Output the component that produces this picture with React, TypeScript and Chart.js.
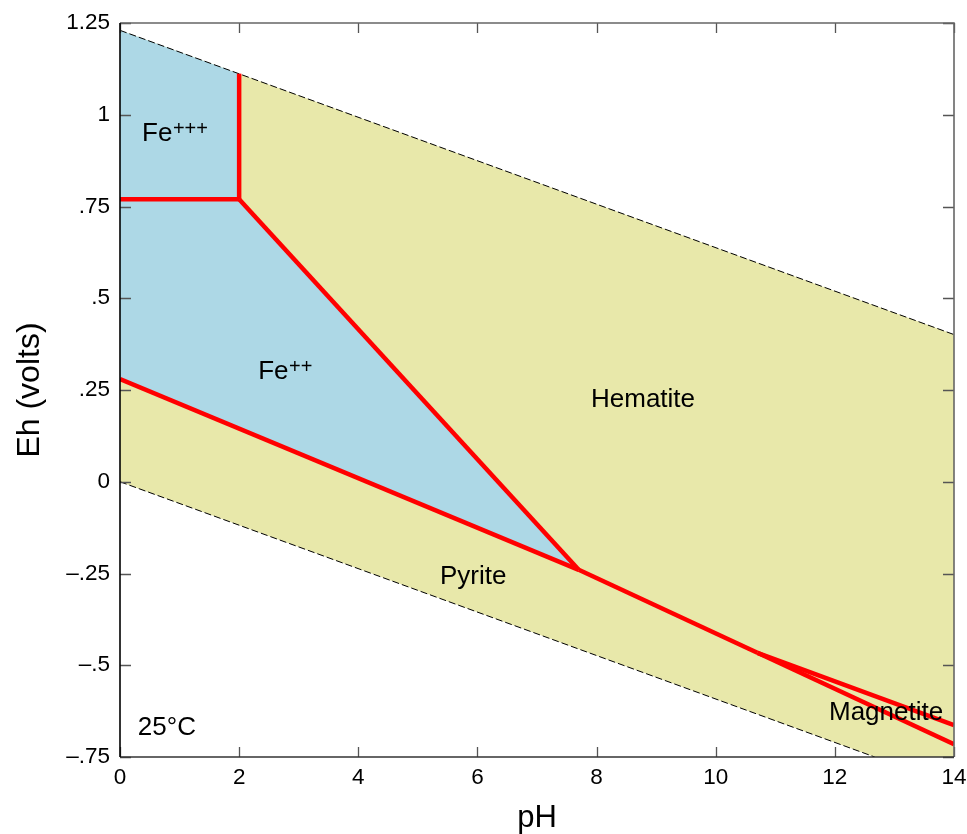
import React, { useEffect, useRef } from "react";
import { Chart, registerables } from "chart.js";

Chart.register(...registerables);

// ---- axis ticks ----
const phTicks = [0, 2, 4, 6, 8, 10, 12, 14];
const ehTicks = [-0.75, -0.5, -0.25, 0, 0.25, 0.5, 0.75, 1, 1.25];
const ehTickLabels = ["\u2013.75", "\u2013.5", "\u2013.25", "0", ".25", ".5", ".75", "1", "1.25"];

// ---- water stability limits (dashed) ----
const waterUpperPH = [0, 14];
const waterUpperEh = [1.23, 0.401];
const waterLowerPH = [0, 12.67];
const waterLowerEh = [0, -0.75];

// ---- filled fields ----
const solidFieldPH = [0, 14, 14, 12.67, 0];
const solidFieldEh = [1.23, 0.401, -0.75, -0.75, 0];
const fe3FieldPH = [0, 2, 2, 0];
const fe3FieldEh = [1.23, 1.112, 0.77, 0.77];
const fe2FieldPH = [0, 2, 7.7, 0];
const fe2FieldEh = [0.77, 0.77, -0.24, 0.28];

// ---- boundaries (red) ----
const fe3Fe2PH = [0, 2];
const fe3Fe2Eh = [0.77, 0.77];
const fe3HemPH = [2, 2];
const fe3HemEh = [0.77, 1.112];
const fe2HemPH = [2, 7.7];
const fe2HemEh = [0.77, -0.24];
const fe2PyrPH = [0, 7.7];
const fe2PyrEh = [0.28, -0.24];
const pyrHemPH = [7.7, 10.7];
const pyrHemEh = [-0.24, -0.466];
const hemMagPH = [10.7, 14];
const hemMagEh = [-0.466, -0.663];
const pyrMagPH = [10.7, 14];
const pyrMagEh = [-0.466, -0.715];

// ---- field labels ----
const fieldNames = ["Hematite", "Pyrite", "Magnetite"];
const fieldNamePH = [8.78, 5.93, 12.86];
const fieldNameEh = [0.223, -0.26, -0.631];
const ionBase = ["Fe", "Fe"];
const ionCharge = ["+++", "++"];
const ionPH = [0.37, 2.32];
const ionEh = [0.928, 0.28];
const tempLabel = "25\u00b0C";
const tempPH = 0.3;
const tempEh = -0.67;

const FONT = "'Liberation Sans', Arial, Helvetica, sans-serif";
const BLUE = "#ADD8E6";
const YELLOW = "#E8E8AA";
const RED = "#FF0000";

const pts = (xs: number[], ys: number[]) => xs.map((x, i) => ({ x, y: ys[i] }));

const poly = (xs: number[], ys: number[], color: string, order: number) => ({
  data: pts(xs, ys),
  showLine: true,
  fill: "shape",
  backgroundColor: color,
  borderColor: color,
  borderWidth: 0,
  pointRadius: 0,
  order,
});

const dashed = (xs: number[], ys: number[]) => ({
  data: pts(xs, ys),
  showLine: true,
  fill: false,
  borderColor: "#000",
  borderWidth: 1,
  borderDash: [7, 3],
  pointRadius: 0,
  order: 5,
});

const redLine = (xs: number[], ys: number[]) => ({
  data: pts(xs, ys),
  showLine: true,
  fill: false,
  borderColor: RED,
  borderWidth: 4.5,
  borderCapStyle: "butt",
  borderJoinStyle: "miter",
  pointRadius: 0,
  order: 1,
});

const decorPlugin = {
  id: "decor",
  afterDatasetsDraw(chart: any) {
    const { ctx, chartArea: a, scales } = chart;
    const x = scales.x;
    const y = scales.y;
    ctx.save();
    // inward tick marks
    ctx.strokeStyle = "#555";
    ctx.lineWidth = 1.3;
    ctx.beginPath();
    phTicks.forEach((v) => {
      const px = Math.round(x.getPixelForValue(v)) + 0.5;
      ctx.moveTo(px, a.bottom);
      ctx.lineTo(px, a.bottom - 10);
      ctx.moveTo(px, a.top);
      ctx.lineTo(px, a.top + 10);
    });
    ehTicks.forEach((v) => {
      const py = Math.round(y.getPixelForValue(v)) + 0.5;
      ctx.moveTo(a.left, py);
      ctx.lineTo(a.left + 11, py);
      ctx.moveTo(a.right, py);
      ctx.lineTo(a.right - 11, py);
    });
    ctx.stroke();
    // frame
    ctx.lineWidth = 1.6;
    ctx.strokeStyle = "#666";
    ctx.beginPath();
    ctx.moveTo(a.left, a.top);
    ctx.lineTo(a.right, a.top);
    ctx.lineTo(a.right, a.bottom);
    ctx.stroke();
    ctx.strokeStyle = "#333";
    ctx.beginPath();
    ctx.moveTo(a.left, a.bottom);
    ctx.lineTo(a.right, a.bottom);
    ctx.stroke();
    ctx.strokeStyle = "#000";
    ctx.beginPath();
    ctx.moveTo(a.left, a.top);
    ctx.lineTo(a.left, a.bottom);
    ctx.stroke();

    // text labels
    ctx.fillStyle = "#000";
    ctx.font = `26px ${FONT}`;
    ctx.textBaseline = "middle";
    ctx.textAlign = "center";
    fieldNames.forEach((t, i) => {
      ctx.fillText(t, x.getPixelForValue(fieldNamePH[i]), y.getPixelForValue(fieldNameEh[i]));
    });
    ctx.textAlign = "left";
    ctx.fillText(tempLabel, x.getPixelForValue(tempPH), y.getPixelForValue(tempEh));
    ctx.textBaseline = "alphabetic";
    ionBase.forEach((t, i) => {
      const px = x.getPixelForValue(ionPH[i]);
      const py = y.getPixelForValue(ionEh[i]);
      ctx.font = `26px ${FONT}`;
      ctx.fillText(t, px, py);
      const w = ctx.measureText(t).width;
      ctx.font = `20px ${FONT}`;
      ctx.fillText(ionCharge[i], px + w + 0.5, py - 6);
    });
    ctx.restore();
  },
};

export default function App() {
  const ref = useRef<HTMLCanvasElement | null>(null);
  useEffect(() => {
    if (!ref.current) return;
    const chart = new Chart(ref.current, {
      type: "scatter",
      data: {
        datasets: [
          poly(solidFieldPH, solidFieldEh, YELLOW, 10),
          poly(fe3FieldPH, fe3FieldEh, BLUE, 9),
          poly(fe2FieldPH, fe2FieldEh, BLUE, 9),
          dashed(waterUpperPH, waterUpperEh),
          dashed(waterLowerPH, waterLowerEh),
          redLine(fe3Fe2PH, fe3Fe2Eh),
          redLine(fe3HemPH, fe3HemEh),
          redLine(fe2HemPH, fe2HemEh),
          redLine(fe2PyrPH, fe2PyrEh),
          redLine(pyrHemPH, pyrHemEh),
          redLine(hemMagPH, hemMagEh),
          redLine(pyrMagPH, pyrMagEh),
        ] as any,
      },
      options: {
        responsive: false,
        animation: false,
        events: [],
        layout: { padding: { top: 23, right: 13, left: 0, bottom: 0 } },
        plugins: {
          legend: { display: false },
          tooltip: { enabled: false },
        },
        scales: {
          x: {
            type: "linear",
            position: "bottom",
            min: 0,
            max: 14,
            afterBuildTicks: (s: any) => {
              s.ticks = phTicks.map((v) => ({ value: v }));
            },
            afterFit: (s: any) => {
              s.height = 77;
              s.paddingLeft = 0;
              s.paddingRight = 0;
            },
            grid: { display: false, drawTicks: false },
            border: { display: false },
            ticks: {
              color: "#000",
              padding: 7,
              maxRotation: 0,
              font: { family: FONT, size: 22.5 },
              callback: (v: any) => String(v),
            },
            title: {
              display: true,
              text: "pH",
              color: "#000",
              font: { family: FONT, size: 31, lineHeight: 1 },
              padding: { top: 0, bottom: 0 },
            },
          },
          y: {
            type: "linear",
            position: "left",
            min: -0.75,
            max: 1.25,
            afterBuildTicks: (s: any) => {
              s.ticks = ehTicks.map((v) => ({ value: v }));
            },
            afterFit: (s: any) => {
              s.width = 120;
              s.paddingTop = 0;
              s.paddingBottom = 0;
            },
            grid: { display: false, drawTicks: false },
            border: { display: false },
            ticks: {
              color: "#000",
              padding: 10,
              font: { family: FONT, size: 22.5 },
              callback: (v: any) => {
                const i = ehTicks.findIndex((t) => Math.abs(t - Number(v)) < 1e-9);
                return i >= 0 ? ehTickLabels[i] : "";
              },
            },
            title: {
              display: true,
              text: "Eh (volts)",
              color: "#000",
              font: { family: FONT, size: 32, lineHeight: 1 },
              padding: { top: 14, bottom: 0 },
            },
          },
        },
      } as any,
      plugins: [decorPlugin],
    });
    return () => chart.destroy();
  }, []);

  return (
    <div style={{ position: "fixed", left: 0, top: 0, width: 967, height: 834, background: "#fff" }}>
      <canvas ref={ref} width={967} height={834} style={{ display: "block", width: 967, height: 834 }} />
    </div>
  );
}
